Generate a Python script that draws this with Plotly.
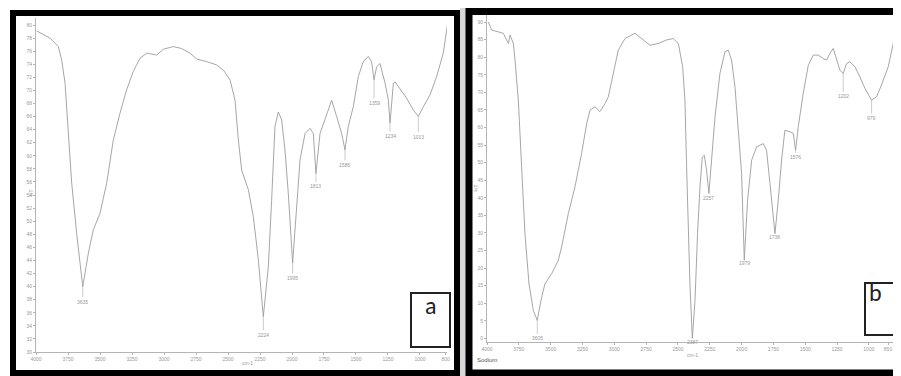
import plotly.graph_objects as go

# page body keeps an 8px default margin; design coordinates below are page pixels
OFF = 8
W, H = 901 - OFF, 376 - OFF

# ---------------- data: panel a ----------------
wn_a = [3995, 3891, 3826, 3799, 3773, 3747, 3721, 3682, 3635, 3591, 3552, 3500, 3448, 3396, 3344, 3292,
        3240, 3188, 3135, 3057, 3005, 2927, 2862, 2797, 2745, 2667, 2589, 2536, 2484, 2445, 2419, 2393,
        2341, 2302, 2263, 2224, 2185, 2159, 2133, 2107, 2081, 2055, 2029, 1995, 1964, 1937, 1898, 1859,
        1833, 1813, 1781, 1729, 1690, 1651, 1612, 1586, 1560, 1521, 1482, 1443, 1404, 1378, 1359, 1339,
        1313, 1273, 1247, 1234, 1208, 1195, 1156, 1104, 1052, 1013, 974, 922, 870, 818, 786]
t_a = [79.1, 78.0, 76.7, 74.6, 71.1, 63.4, 55.8, 48.1, 40.0, 45.1, 48.7, 51.2, 55.8, 62.4, 66.5, 70.1,
       72.9, 74.9, 75.7, 75.4, 76.3, 76.7, 76.4, 75.7, 74.8, 74.4, 73.9, 73.1, 71.6, 68.5, 62.4, 57.8,
       54.8, 50.7, 44.1, 35.4, 43.0, 53.2, 64.5, 66.7, 65.5, 60.9, 54.3, 43.6, 51.7, 59.4, 63.4, 64.2,
       63.4, 57.3, 63.4, 66.5, 68.5, 66.0, 63.4, 60.9, 64.5, 67.5, 72.1, 74.4, 75.2, 74.4, 71.6, 73.6,
       74.1, 71.1, 68.5, 65.0, 71.1, 71.3, 70.3, 68.8, 67.0, 66.0, 67.5, 69.3, 72.1, 75.7, 80.0]
peak_wn_a = [3635, 2224, 1995, 1813, 1586, 1359, 1234, 1013]
peak_t_a = [40.0, 35.4, 43.6, 57.3, 60.9, 71.6, 65.0, 66.0]
peak_lbl_a = ["3635", "2224", "1995", "1813", "1586", "1359", "1234", "1013"]
xticks_a = [4000, 3750, 3500, 3250, 3000, 2750, 2500, 2250, 2000, 1750, 1500, 1250, 1000, 800]
yticks_a = list(range(30, 81, 2))

# ---------------- data: panel b ----------------
wn_b = [3990, 3963, 3911, 3872, 3846, 3832, 3819, 3793, 3780, 3754, 3728, 3702, 3670, 3636, 3605, 3576,
        3545, 3492, 3440, 3414, 3361, 3309, 3257, 3217, 3191, 3152, 3113, 3073, 3047, 3008, 2969, 2916,
        2838, 2785, 2720, 2654, 2589, 2537, 2497, 2463, 2445, 2432, 2419, 2406, 2387, 2366, 2346, 2327,
        2309, 2293, 2275, 2257, 2236, 2209, 2170, 2131, 2105, 2079, 2052, 2026, 2000, 1979, 1953, 1921,
        1882, 1830, 1804, 1777, 1751, 1738, 1712, 1686, 1660, 1620, 1594, 1576, 1555, 1516, 1476, 1437,
        1398, 1359, 1332, 1306, 1280, 1254, 1228, 1202, 1175, 1149, 1110, 1071, 1031, 979, 940, 901,
        848, 809, 783]
t_b = [90.0, 87.7, 87.2, 86.8, 84.9, 83.9, 86.3, 83.9, 79.2, 67.8, 48.8, 29.8, 15.5, 7.9, 5.1, 10.8,
       15.5, 18.4, 22.2, 26.0, 35.5, 43.1, 52.6, 61.1, 64.9, 65.9, 64.5, 66.8, 68.7, 75.4, 82.0, 85.3,
       86.8, 85.3, 83.4, 83.9, 84.9, 85.3, 83.9, 77.3, 67.8, 48.8, 29.8, 15.5, 0.0, 10.8, 29.8, 43.1,
       51.6, 52.1, 47.8, 41.2, 50.7, 63.0, 75.4, 81.5, 82.0, 79.2, 71.6, 58.3, 46.9, 22.2, 39.3, 50.7,
       54.5, 55.4, 53.5, 44.0, 34.5, 29.8, 39.3, 50.7, 59.2, 58.8, 58.3, 53.5, 60.2, 69.7, 77.7, 80.6,
       80.6, 79.6, 79.2, 81.1, 82.5, 79.2, 76.3, 75.4, 78.2, 78.7, 77.3, 74.4, 71.1, 67.8, 68.7, 72.1,
       77.3, 83.9, 88.2]
peak_wn_b = [3605, 2387, 2257, 1979, 1738, 1576, 1202, 979]
peak_t_b = [5.1, 0.0, 41.2, 22.2, 29.8, 53.5, 75.4, 67.8]
peak_lbl_b = ["3605", "2387", "2257", "1979", "1738", "1576", "1202", "979"]
xticks_b = [4000, 3750, 3500, 3250, 3000, 2750, 2500, 2250, 2000, 1750, 1500, 1250, 1000, 850]
yticks_b = list(range(0, 91, 5))


def px(x):
    return (x - OFF) / W


def py(y):
    return 1 - (y - OFF) / H


fig = go.Figure()
line_col = "#9c9c9c"
tick_font = dict(family="Liberation Sans, Arial, sans-serif", size=5, color="#9a9a9a")

fig.add_trace(go.Scatter(x=wn_a, y=t_a, mode="lines", line=dict(color=line_col, width=0.9),
                         xaxis="x", yaxis="y", showlegend=False, hoverinfo="skip"))
fig.add_trace(go.Scatter(x=wn_b, y=t_b, mode="lines", line=dict(color=line_col, width=0.9),
                         xaxis="x2", yaxis="y2", showlegend=False, hoverinfo="skip"))

axis_common = dict(showgrid=False, zeroline=False, showline=True, linecolor="#b5b5b5", linewidth=1,
                   ticks="outside", ticklen=2, tickcolor="#b5b5b5", tickfont=tick_font,
                   automargin=False)

fig.update_layout(
    width=W, height=H, margin=dict(l=0, r=0, t=0, b=0, autoexpand=False),
    paper_bgcolor="white", plot_bgcolor="white",
    xaxis=dict(domain=[px(36), px(447)], range=[4000, 789], anchor="y",
               tickvals=xticks_a, ticktext=[str(v) for v in xticks_a], **axis_common),
    yaxis=dict(domain=[py(352), py(18)], range=[30, 81.07], anchor="x",
               tickvals=yticks_a, ticktext=[str(v) for v in yticks_a], **axis_common),
    xaxis2=dict(domain=[px(487), px(895)], range=[4000, 795], anchor="y2",
                tickvals=xticks_b, ticktext=[str(v) for v in xticks_b], **axis_common),
    yaxis2=dict(domain=[py(341.5), py(15)], range=[-0.9, 92], anchor="x2",
                tickvals=yticks_b, ticktext=[str(v) for v in yticks_b], **axis_common),
)

ann = []
offs_a = [15, 18, 15, 13, 15, 23, 13, 20]
for w, t, l, o in zip(peak_wn_a, peak_t_a, peak_lbl_a, offs_a):
    ann.append(dict(x=w, y=t, xref="x", yref="y", text=l, showarrow=True, arrowhead=0,
                    arrowwidth=0.6, arrowcolor="#aaa", ax=0, ay=o,
                    font=dict(family="Liberation Sans, Arial", size=5, color="#999")))
offs_b = [18, 4, 4, 3, 3, 7, 23, 18]
for w, t, l, o in zip(peak_wn_b, peak_t_b, peak_lbl_b, offs_b):
    ann.append(dict(x=w, y=t, xref="x2", yref="y2", text=l, showarrow=True, arrowhead=0,
                    arrowwidth=0.6, arrowcolor="#aaa", ax=0, ay=o,
                    font=dict(family="Liberation Sans, Arial", size=5, color="#999")))

small = dict(family="Liberation Sans, Arial", size=5, color="#999")
ann += [
    dict(x=px(26), y=py(193), xref="paper", yref="paper", text="%T", textangle=-90,
         showarrow=False, font=small),
    dict(x=px(240), y=py(368), xref="paper", yref="paper", text="cm-1", showarrow=False, font=small),
    dict(x=px(476), y=py(188), xref="paper", yref="paper", text="%T", textangle=-90,
         showarrow=False, font=small),
    dict(x=px(700), y=py(360), xref="paper", yref="paper", text="cm-1", showarrow=False, font=small),
    dict(x=px(475), y=py(365), xref="paper", yref="paper", text="Sodium", showarrow=False,
         xanchor="left", font=dict(family="Liberation Sans, Arial", size=6, color="#555")),
    dict(x=px(431), y=py(322), xref="paper", yref="paper", text="a", showarrow=False,
         font=dict(family="Carlito, Liberation Sans, Arial", size=24, color="#222")),
    dict(x=px(884), y=py(309), xref="paper", yref="paper", text="b", showarrow=False,
         font=dict(family="Carlito, Liberation Sans, Arial", size=24, color="#222")),
]
fig.update_layout(annotations=ann)

shapes = [
    dict(type="rect", xref="paper", yref="paper", x0=px(460), x1=px(466), y0=py(376), y1=py(6),
         fillcolor="#d8d8d8", line=dict(width=0), layer="below"),
    dict(type="rect", xref="paper", yref="paper", x0=px(13), x1=px(457), y0=py(373), y1=py(13),
         line=dict(color="black", width=6)),
    dict(type="rect", xref="paper", yref="paper", x0=px(469), x1=px(910), y0=py(373), y1=py(11.5),
         line=dict(color="black", width=7)),
    dict(type="rect", xref="paper", yref="paper", x0=px(411), x1=px(450), y0=py(347), y1=py(293),
         line=dict(color="#222", width=2)),
    dict(type="rect", xref="paper", yref="paper", x0=px(865), x1=px(910), y0=py(335), y1=py(283),
         line=dict(color="#222", width=2)),
]
fig.update_layout(shapes=shapes)

fig.write_html("out.html")
